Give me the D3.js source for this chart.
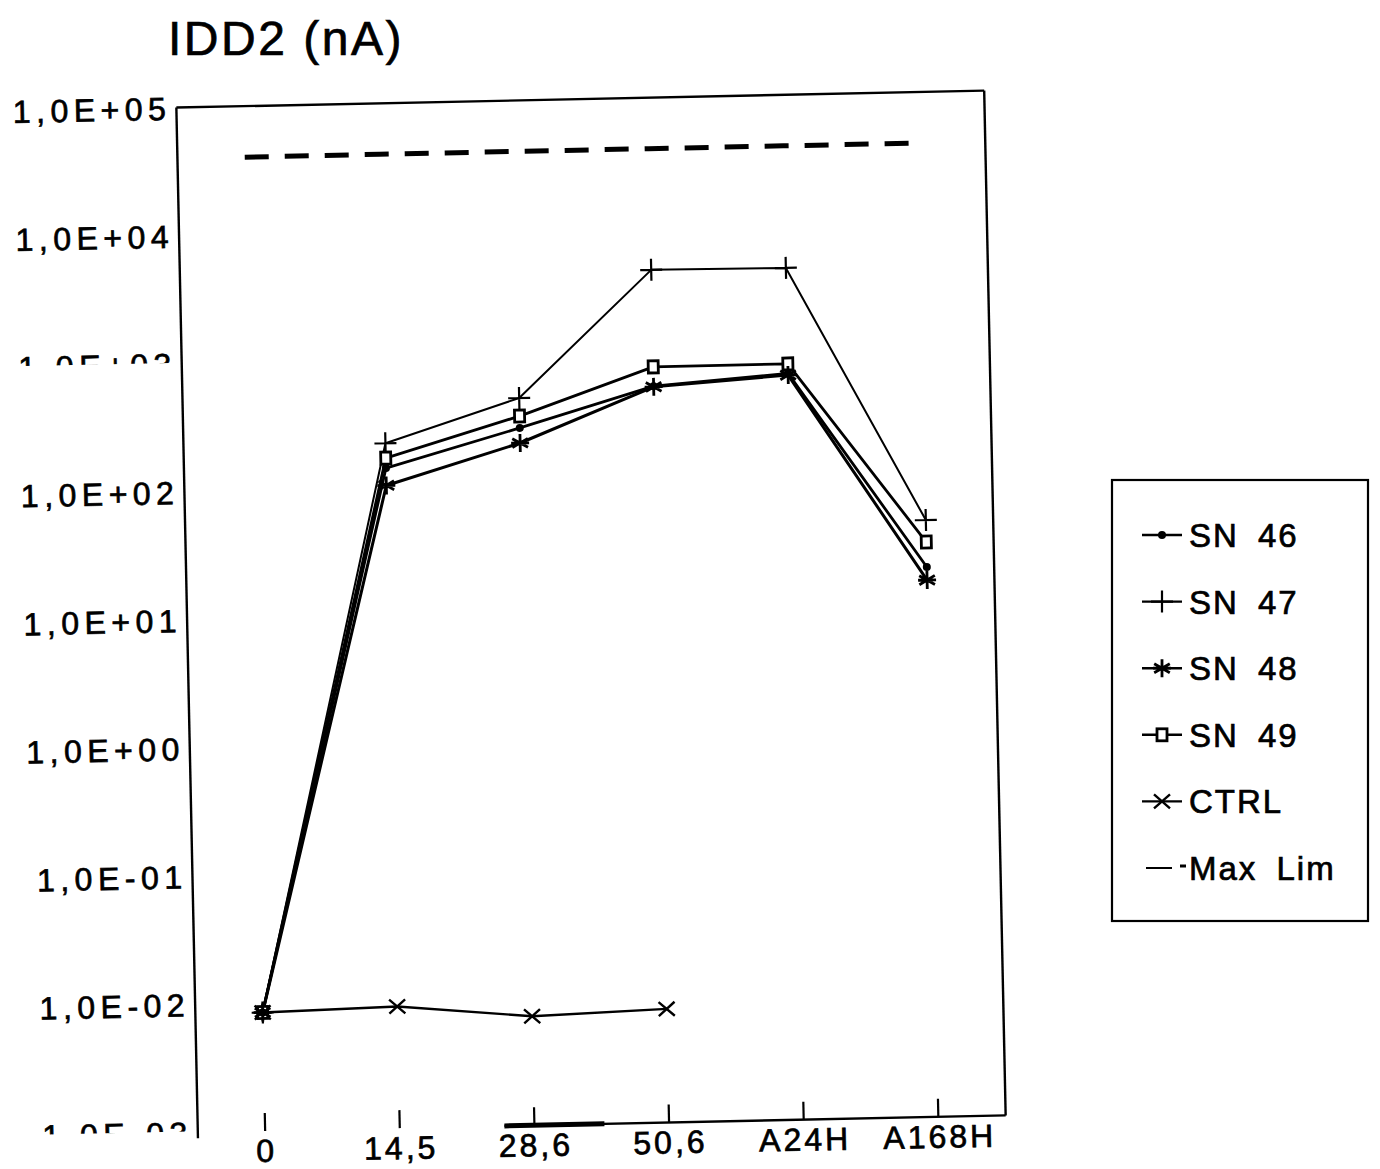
<!DOCTYPE html>
<html>
<head>
<meta charset="utf-8">
<script src="https://cdn.jsdelivr.net/npm/d3@7"></script>
<style>
  html, body { margin: 0; padding: 0; background: #fff; }
  svg { display: block; }
  text { font-family: "Liberation Sans", Arial, Helvetica, sans-serif; fill: #000; stroke: #000; stroke-width: 0.7px; }
</style>
</head>
<body>
<svg id="chart" width="1380" height="1169"></svg>
<script>
// ---------- data ----------
const categories = ["0", "14,5", "28,6", "50,6", "A24H", "A168H"];
const sn46 = [0.0084, 142, 278, 560, 670, 19.6];
const sn47 = [0.0084, 222, 476, 4530, 4460, 45.6];
const sn48 = [0.0084, 104, 212, 553, 650, 15.5];
const sn49 = [0.0084, 170, 344, 792, 794, 30.7];
const ctrl = [0.0084, 0.0089, 0.0071, 0.0077];
const maxLim = [40000, 40000, 40000, 40000, 40000, 40000];
const yTickValues = [1e5, 1e4, 1e3, 1e2, 1e1, 1, 0.1, 0.01, 0.001];
const yTickLabels = ["1,0E+05", "1,0E+04", "1,0E+03", "1,0E+02", "1,0E+01", "1,0E+00", "1,0E-01", "1,0E-02", "1,0E-03"];
const fadedTicks = [1e3, 0.001];
const legendLabels = ["SN 46", "SN 47", "SN 48", "SN 49", "CTRL", "Max Lim"];
const titleText = "IDD2 (nA)";

// ---------- layout ----------
const svg = d3.select("#chart");
const L = 187, R = 995, T = 99, B = 1124;

const x = d3.scalePoint().domain(categories).range([L, R]).padding(0.5);
const y = d3.scaleLog().domain([0.001, 1e5]).range([B, T]);

// title
svg.append("text").attr("x", 168).attr("y", 55)
  .attr("font-size", 48).attr("letter-spacing", 2.5).text(titleText);

// plot group (slightly rotated like the scanned original)
const g = svg.append("g").attr("transform", "rotate(-1.2, 590.75, 611.25)");

// frame
const frame = g.append("g").attr("stroke", "#000").attr("fill", "none").attr("stroke-width", 2.4);
frame.append("line").attr("x1", L).attr("x2", L).attr("y1", T).attr("y2", B + 6);
frame.append("line").attr("x1", L).attr("x2", R).attr("y1", T).attr("y2", T);
frame.append("line").attr("x1", R).attr("x2", R).attr("y1", T).attr("y2", B);
frame.append("line").attr("x1", x("28,6") - 30).attr("x2", R).attr("y1", B).attr("y2", B);
frame.append("line").attr("x1", x("28,6") - 30).attr("x2", x("28,6") + 70).attr("y1", B).attr("y2", B).attr("stroke-width", 5);

// x ticks + labels
categories.forEach(c => {
  g.append("line").attr("x1", x(c)).attr("x2", x(c)).attr("y1", B - 18).attr("y2", B)
    .attr("stroke", "#000").attr("stroke-width", 2.2);
  g.append("text").attr("x", x(c) + 1).attr("y", B + 31).attr("text-anchor", "middle")
    .attr("font-size", 32).attr("letter-spacing", 3).text(c);
});

// y labels
const defs = svg.append("defs");
yTickValues.forEach((v, i) => {
  const t = g.append("text").attr("x", L - 5).attr("y", y(v) + 12).attr("text-anchor", "end")
    .attr("font-size", 32).attr("letter-spacing", 5.5).text(yTickLabels[i]);
  if (fadedTicks.includes(v)) {
    const id = "clip" + i;
    defs.append("clipPath").attr("id", id).append("rect")
      .attr("x", 0).attr("width", L).attr("y", y(v) - 14).attr("height", 13);
    t.attr("clip-path", `url(#${id})`);
  }
});

// ---------- series ----------
const line = d3.line().x((d, i) => x(categories[i])).y(d => y(d));

// Max Lim
g.append("path").datum(maxLim).attr("d", line).attr("fill", "none")
  .attr("stroke", "#000").attr("stroke-width", 5).attr("stroke-dasharray", "24,16");

// marker drawers
function plus(sel, cx, cy) {
  sel.append("path").attr("d", `M${cx - 11},${cy}H${cx + 11}M${cx},${cy - 11}V${cy + 11}`)
    .attr("stroke", "#000").attr("stroke-width", 2.2).attr("fill", "none");
}
function star(sel, cx, cy) {
  const r = 9, a = r * Math.cos(Math.PI / 6), b = r * Math.sin(Math.PI / 6);
  sel.append("path").attr("d", `M${cx},${cy - r}V${cy + r}M${cx - a},${cy - b}L${cx + a},${cy + b}M${cx - a},${cy + b}L${cx + a},${cy - b}M${cx - r},${cy}H${cx + r}`)
    .attr("stroke", "#000").attr("stroke-width", 2.8).attr("fill", "none");
}
function square(sel, cx, cy) {
  sel.append("rect").attr("x", cx - 5).attr("y", cy - 6).attr("width", 10).attr("height", 12)
    .attr("fill", "#fff").attr("stroke", "#000").attr("stroke-width", 2.8);
}
function dot(sel, cx, cy) {
  sel.append("circle").attr("cx", cx).attr("cy", cy).attr("r", 4).attr("fill", "#000");
}
function cross(sel, cx, cy) {
  sel.append("path").attr("d", `M${cx - 8},${cy - 7}L${cx + 8},${cy + 7}M${cx - 8},${cy + 7}L${cx + 8},${cy - 7}`)
    .attr("stroke", "#000").attr("stroke-width", 2.4).attr("fill", "none");
}

const series = [
  { data: ctrl, w: 2.4, m: cross },
  { data: sn47, w: 2, m: plus },
  { data: sn49, w: 2.8, m: square },
  { data: sn46, w: 2.8, m: dot },
  { data: sn48, w: 3, m: star }
];
series.forEach(s => {
  g.append("path").datum(s.data).attr("d", line).attr("fill", "none")
    .attr("stroke", "#000").attr("stroke-width", s.w).attr("stroke-linejoin", "round");
});
series.forEach(s => {
  s.data.forEach((v, i) => s.m(g, x(categories[i]), y(v)));
});

// ---------- legend ----------
const lg = svg.append("g");
lg.append("rect").attr("x", 1112).attr("y", 480).attr("width", 256).attr("height", 441)
  .attr("fill", "none").attr("stroke", "#000").attr("stroke-width", 2.2);
const legendMarkers = [dot, plus, star, square, cross, null];
legendLabels.forEach((lab, i) => {
  const cy = 535 + i * 66.6;
  if (i < 5) {
    lg.append("line").attr("x1", 1142).attr("x2", 1182).attr("y1", cy).attr("y2", cy)
      .attr("stroke", "#000").attr("stroke-width", 2.4);
    legendMarkers[i](lg, 1162, cy);
  } else {
    lg.append("line").attr("x1", 1146).attr("x2", 1172).attr("y1", cy).attr("y2", cy)
      .attr("stroke", "#000").attr("stroke-width", 2);
    lg.append("line").attr("x1", 1180).attr("x2", 1186).attr("y1", cy - 2).attr("y2", cy - 2)
      .attr("stroke", "#000").attr("stroke-width", 3);
  }
  lg.append("text").attr("x", 1189).attr("y", cy + 12).attr("font-size", 33)
    .attr("letter-spacing", 2).attr("word-spacing", 8).text(lab);
});
</script>
</body>
</html>
